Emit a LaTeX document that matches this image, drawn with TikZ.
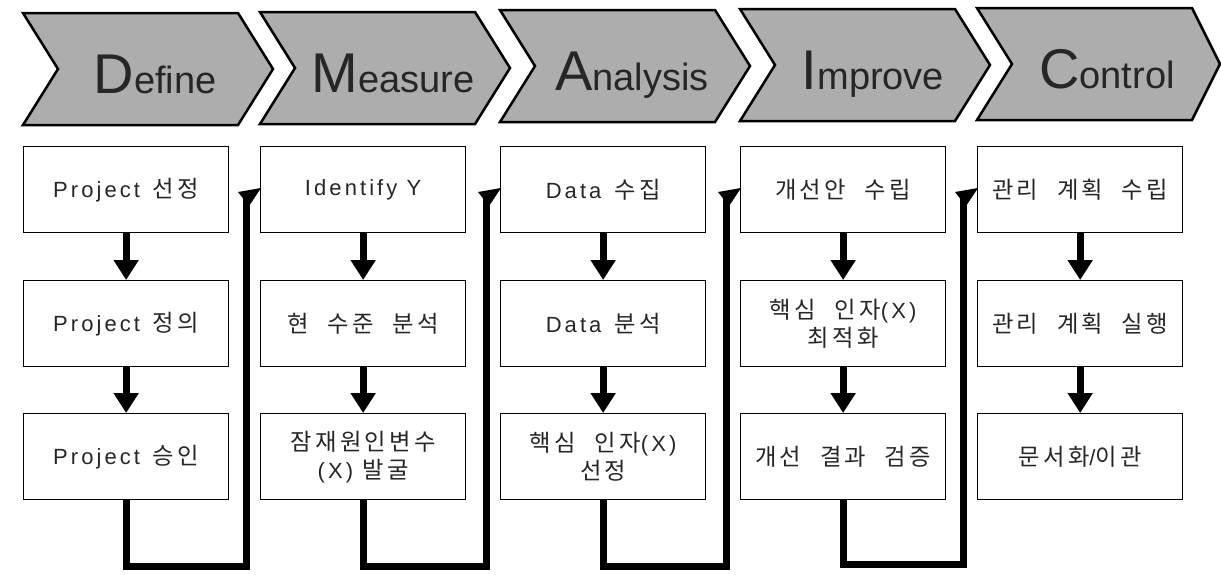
\documentclass[tikz,border=0pt]{standalone}
\usepackage{fontspec}
\setmainfont{Liberation Sans}
\newfontfamily\kr[Scale=1.06,LetterSpace=14,WordSpace=2.2]{Noto Sans CJK KR}
\newfontfamily\lat[LetterSpace=14]{Liberation Sans}
\usetikzlibrary{arrows.meta,calc}

\tikzset{
  chev/.style={fill=black!32, draw=black, line width=2.5pt, line join=miter},
  stagelabel/.style={anchor=base, font=\fontsize{38}{40}\selectfont, text=black!85, inner sep=0pt},
  stepbox/.style={draw=black, line width=1.3pt, minimum width=205pt, minimum height=86pt,
    anchor=north west, align=center, font=\lat\fontsize{22}{28}\selectfont, text=black!85, inner sep=0pt},
  flowarrow/.style={line width=7pt, -{Triangle[width=24pt,length=20pt]}},
  backline/.style={line width=7pt, line join=miter},
}
\newcommand\mychev[3]{%
  \draw[chev] (#1,#2) -- ++(215,0) -- ++(#3,56) -- ++(-#3,56) -- ++(-215,0) -- ++(35,-56) -- cycle;}
\newcommand\BigLetter[1]{{\fontsize{56}{56}\selectfont #1}}

\begin{document}
\begin{tikzpicture}[x=1pt,y=-1pt]
\useasboundingbox (0,0) rectangle (1221,574);

% chevrons
\mychev{23}{13}{35}
\mychev{260}{12}{35}
\mychev{500}{10}{35}
\mychev{740}{9}{35}
\mychev{977}{8}{28}

\node[stagelabel] (tD) at (155,93) {\BigLetter{D}efine};
\node[stagelabel] (tM) at (393,92) {\BigLetter{M}easure};
\node[stagelabel] (tA) at (632,90) {\BigLetter{A}nalysis};
\node[stagelabel] (tI) at (873,89) {\BigLetter{I}mprove};
\node[stagelabel] (tC) at (1107,88) {\BigLetter{C}ontrol};

% boxes
\node[stepbox] (a1) at (23,146) {Project\, {\kr 선정}};
\node[stepbox] (a2) at (23,280) {Project\, {\kr 정의}};
\node[stepbox] (a3) at (23,413) {Project\, {\kr 승인}};

\node[stepbox] (b1) at (260,146) {Identify Y};
\node[stepbox] (b2) at (260,280) {\kr 현 수준 분석};
\node[stepbox] (b3) at (260,413) {{\kr 잠재원인변수}\\(X) {\kr 발굴}};

\node[stepbox] (c1) at (500,146) {Data\, {\kr 수집}};
\node[stepbox] (c2) at (500,280) {Data\, {\kr 분석}};
\node[stepbox] (c3) at (500,413) {{\kr 핵심 인자}(X)\\{\kr 선정}};

\node[stepbox] (d1) at (740,146) {\kr 개선안 수립};
\node[stepbox] (d2) at (740,280) {{\kr 핵심 인자}(X)\\{\kr 최적화}};
\node[stepbox] (d3) at (740,413) {\kr 개선 결과 검증};

\node[stepbox] (e1) at (977,146) {\kr 관리 계획 수립};
\node[stepbox] (e2) at (977,280) {\kr 관리 계획 실행};
\node[stepbox] (e3) at (977,413) {{\kr 문서화}/{\kr 이관}};

% vertical arrows
\foreach \c in {a,b,c,d,e}{
  \draw[flowarrow] (\c1.south) -- (\c2.north);
  \draw[flowarrow] (\c2.south) -- (\c3.north);
}

% return connectors
\coordinate (j1) at (246,192);
\coordinate (j2) at (486,192);
\coordinate (j3) at (726,192);
\coordinate (j4) at (963,192);
\draw[backline] (a3.south) -- ++(0,66) -| (j1);
\draw[backline] (b3.south) -- ++(0,66) -| (j2);
\draw[backline] (c3.south) -- ++(0,66) -| (j3);
\draw[backline] (d3.south) -- ++(0,64) -| (j4);
\foreach \j in {j1,j2,j3,j4}{
  \fill (\j) ++(-8,0) -- ++(23,-4) -- ++(-12,18) -- cycle;
}
\end{tikzpicture}
\end{document}
